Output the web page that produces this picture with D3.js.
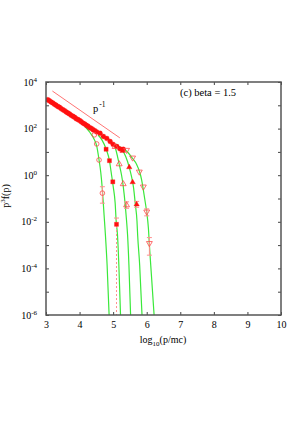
<!DOCTYPE html>
<html>
<head>
<meta charset="utf-8">
<script src="https://cdn.jsdelivr.net/npm/d3@7"></script>
<style>
  body { margin: 0; background: #fff; }
  svg { display: block; }
  text { font-family: "Liberation Serif", "DejaVu Serif", serif; fill: #000; }
</style>
</head>
<body>
<div id="chart"></div>
<script>
//Width, Height and padding
var margin = {top: 82, right: 19, bottom: 113, left: 46},
    w = 300 - margin.left - margin.right,
    h = 428 - margin.top - margin.bottom;

/***Data***/
// shared low-energy trunk, all runs on top of each other
var trunkX = [3.05,3.10,3.15,3.20,3.25,3.30,3.35,3.40,3.45,3.50,3.55,3.60,3.65,3.70,3.75,3.80,3.85,3.90,3.95,4.00,
              4.05,4.10,4.15,4.20,4.25,4.30,4.35,4.40,4.45,4.51,4.61,4.71,4.81,4.91,5.00,5.11,5.20,5.30];
var trunkY = [1740,1560,1380,1270,1110,1010,890,820,720,650,590,520,470,425,370,340,305,265,245,222,
              196,172,158,139,127,110,102,90,82,72,63,46,38,28,21,17,13.5,13];

// points after each run leaves the trunk
var s1X = [4.44, 4.51, 4.58, 4.68];
var s1Y = [54, 22, 4.5, 0.17];
var s2X = [4.79, 4.89, 4.99, 5.10];
var s2Y = [13, 4.2, 0.52, 0.0078];
var s3X = [5.06, 5.18, 5.30, 5.40];
var s3Y = [16.6, 3.0, 0.42, 0.052];
var s4X = [5.28, 5.48, 5.58, 5.70];
var s4Y = [11, 2.2, 0.5, 0.056];
var s5X = [5.40, 5.58, 5.78, 5.90, 6.00, 6.08];
var s5Y = [12, 5.6, 1.4, 0.32, 0.027, 0.0012];

// error bars (lower value 1e-6 = runs off the bottom)
var errX  = [4.68, 5.10, 5.40, 5.70, 6.00, 6.08];
var errLo = [0.063, 1e-6, 0.038, 0.042, 0.018, 0.00037];
var errHi = [0.32, 0.0145, 0.072, 0.075, 0.036, 0.0021];

// green fit curves
var fit1X = [4.16, 4.31, 4.43, 4.51, 4.58, 4.63, 4.68, 4.73, 4.77, 4.82, 4.88];
var fit1Y = [123, 68, 36, 18, 4.5, 1.37, 0.23, 0.0196, 0.0027, 1.4e-4, 1e-6];
var fit2X = [4.55, 4.67, 4.79, 4.89, 4.94, 5.00, 5.06, 5.09, 5.13, 5.17, 5.22];
var fit2Y = [53, 32, 13.3, 4.2, 1.37, 0.34, 0.064, 0.0108, 0.0027, 1.4e-4, 1e-6];
var fit3X = [4.85, 4.94, 5.06, 5.18, 5.25, 5.30, 5.36, 5.40, 5.43, 5.47, 5.52];
var fit3Y = [36, 26.6, 15.5, 3.0, 1.02, 0.34, 0.053, 0.0108, 0.0027, 1.4e-4, 1e-6];
var fit4X = [5.09, 5.19, 5.29, 5.38, 5.48, 5.55, 5.61, 5.66, 5.71, 5.73, 5.79, 5.86];
var fit4Y = [21.8, 16.2, 10.9, 6.0, 2.18, 0.84, 0.28, 0.058, 0.0108, 0.0027, 1.4e-4, 1e-6];
var fit5X = [5.20, 5.32, 5.44, 5.58, 5.70, 5.79, 5.85, 5.90, 5.96, 6.00, 6.05, 6.08, 6.14, 6.22];
var fit5Y = [16.2, 13.3, 9.4, 5.2, 2.9, 1.37, 0.62, 0.23, 0.064, 0.026, 0.0054, 0.001, 5.2e-5, 1e-6];

// p^-1 guide line
var guideX = [3.19, 5.20];
var guideY = [4100, 40];

// ticks
var xTicks = [3, 4, 5, 6, 7, 8, 9, 10];
var yMajor = [-6, -4, -2, 0, 2, 4];
var yAll = [1e-6, 1e-5, 1e-4, 1e-3, 1e-2, 1e-1, 1, 10, 100, 1000, 1e4];

var red = "#ff1010";
var lightRed = "#ff4a4a";
var pink = "#ff9090";
var green = "#3be83b";

/***Draw SVG***/
var svg = d3.select("#chart")
            .append("svg")
            .attr("width", w + margin.left + margin.right)
            .attr("height", h + margin.top + margin.bottom)
            .append("g")
            .attr("transform", "translate(" + margin.left + "," + margin.top + ")");

/***Scales***/
var xScale = d3.scaleLinear()
                .domain([3, 10])
                .range([0, w]);
var yScale = d3.scaleLog()
                .domain([1e-6, 1e4])
                .range([h, 0]);

svg.append("clipPath")
   .attr("id", "clip")
   .append("rect")
   .attr("width", w)
   .attr("height", h);

var plot = svg.append("g").attr("clip-path", "url(#clip)");

var zip = function(xs, ys) {
  return xs.map(function(d, i) { return [d, ys[i]]; });
};

var line = d3.line()
             .curve(d3.curveMonotoneX)
             .x(function(d) { return xScale(d[0]); })
             .y(function(d) { return yScale(d[1]); });

/***Fit Curves***/
[[fit1X, fit1Y], [fit2X, fit2Y], [fit3X, fit3Y], [fit4X, fit4Y], [fit5X, fit5Y]].forEach(function(f) {
  plot.append("path")
      .datum(zip(f[0], f[1]))
      .attr("fill", "none")
      .attr("stroke", green)
      .attr("stroke-width", 1.2)
      .attr("d", line);
});

/***Guide Line***/
plot.append("path")
    .datum(zip(guideX, guideY))
    .attr("fill", "none")
    .attr("stroke", "#ff5050")
    .attr("stroke-width", 0.8)
    .attr("d", d3.line()
                 .x(function(d) { return xScale(d[0]); })
                 .y(function(d) { return yScale(d[1]); }));

/***Error Bars***/
var errs = errX.map(function(d, i) { return {x: d, lo: errLo[i], hi: errHi[i]}; });
var eb = plot.selectAll(".err")
             .data(errs)
             .enter()
             .append("g")
             .attr("class", "err");
eb.append("line")
  .attr("x1", function(d) { return xScale(d.x); })
  .attr("x2", function(d) { return xScale(d.x); })
  .attr("y1", function(d) { return yScale(d.hi); })
  .attr("y2", function(d) { return yScale(d.lo); })
  .attr("stroke", pink)
  .attr("stroke-width", 1)
  .attr("stroke-dasharray", function(d) { return d.lo <= 1e-6 ? "2,2" : null; });
eb.append("line")
  .attr("x1", function(d) { return xScale(d.x) - 2.5; })
  .attr("x2", function(d) { return xScale(d.x) + 2.5; })
  .attr("y1", function(d) { return yScale(d.hi); })
  .attr("y2", function(d) { return yScale(d.hi); })
  .attr("stroke", pink);
eb.filter(function(d) { return d.lo > 1e-6; })
  .append("line")
  .attr("x1", function(d) { return xScale(d.x) - 2.5; })
  .attr("x2", function(d) { return xScale(d.x) + 2.5; })
  .attr("y1", function(d) { return yScale(d.lo); })
  .attr("y2", function(d) { return yScale(d.lo); })
  .attr("stroke", pink);

/***Markers***/
var drawPoints = function(xs, ys, type, size, filled, rot) {
  plot.selectAll(null)
      .data(zip(xs, ys))
      .enter()
      .append("path")
      .attr("d", d3.symbol().type(type).size(size))
      .attr("transform", function(d) {
        return "translate(" + xScale(d[0]) + "," + yScale(d[1]) + ")" + (rot ? " rotate(180)" : "");
      })
      .attr("fill", filled ? red : "none")
      .attr("stroke", filled ? red : lightRed)
      .attr("stroke-width", filled ? 0.3 : 0.8);
};

drawPoints(trunkX, trunkY, d3.symbolCircle, 19, true, false);
drawPoints(s1X, s1Y, d3.symbolCircle, 17, false, false);
drawPoints(s2X, s2Y, d3.symbolSquare, 17, true, false);
drawPoints(s3X, s3Y, d3.symbolTriangle, 15, false, false);
drawPoints(s4X, s4Y, d3.symbolTriangle, 13, true, false);
drawPoints(s5X, s5Y, d3.symbolTriangle, 15, false, true);

/****Axes****/
var xAxis = d3.axisBottom(xScale)
              .tickValues(xTicks)
              .tickSize(-3)
              .tickPadding(6)
              .tickFormat(d3.format("d"));
var xAxisTop = d3.axisTop(xScale)
                 .tickValues(xTicks)
                 .tickSize(-3)
                 .tickFormat("");
var yAxis = d3.axisLeft(yScale)
              .tickValues(yAll)
              .tickSize(-3)
              .tickFormat("");
var yAxisRight = d3.axisRight(yScale)
                   .tickValues(yAll)
                   .tickSize(-3)
                   .tickFormat("");

svg.append("g")
   .attr("class", "xaxis")
   .attr("transform", "translate(0," + h + ")")
   .call(xAxis);
svg.append("g").call(xAxisTop);
svg.append("g").call(yAxis);
svg.append("g").attr("transform", "translate(" + w + ",0)").call(yAxisRight);

svg.selectAll(".domain").style("display", "none");
svg.selectAll(".tick line").attr("stroke", "#444").attr("stroke-width", 1);
svg.selectAll(".xaxis text")
   .style("font-size", "10px")
   .style("font-family", "Liberation Serif, serif")
   .attr("fill", "#000");

/***Frame***/
svg.append("rect")
   .attr("width", w)
   .attr("height", h)
   .attr("fill", "none")
   .attr("stroke", "#555")
   .attr("stroke-width", 1.5);

/***Y Tick Labels***/
var yl = svg.selectAll(".ylab")
            .data(yMajor)
            .enter()
            .append("text")
            .attr("class", "ylab")
            .attr("x", -9)
            .attr("y", function(d) { return yScale(Math.pow(10, d)) + 3.5; })
            .attr("text-anchor", "end")
            .style("font-size", "10px");
yl.append("tspan").text("10");
yl.append("tspan")
  .attr("dy", -4)
  .style("font-size", "7px")
  .text(function(d) { return d; });

/***Axis Titles***/
var xt = svg.append("text")
            .attr("x", 117)
            .attr("y", 261)
            .attr("text-anchor", "middle")
            .style("font-size", "10px");
xt.append("tspan").text("log");
xt.append("tspan").attr("dy", 2.5).style("font-size", "7px").text("10");
xt.append("tspan").attr("dy", -2.5).text("(p/mc)");

var yt = svg.append("text")
            .attr("transform", "translate(" + (8.5 - margin.left) + ",114) rotate(-90)")
            .attr("text-anchor", "middle")
            .style("font-size", "10px");
yt.append("tspan").text("p");
yt.append("tspan").attr("dy", -4).style("font-size", "7px").text("3");
yt.append("tspan").attr("dy", 4).text("f(p)");

/***Annotations***/
svg.append("text")
   .attr("x", 134)
   .attr("y", 14)
   .style("font-size", "10.5px")
   .text("(c) beta = 1.5");

var pl = svg.append("text")
            .attr("x", 47)
            .attr("y", 30)
            .style("font-size", "10.5px");
pl.append("tspan").text("p");
pl.append("tspan").attr("dy", -5).attr("dx", 1).style("font-size", "7.5px").text("-1");
</script>
</body>
</html>
